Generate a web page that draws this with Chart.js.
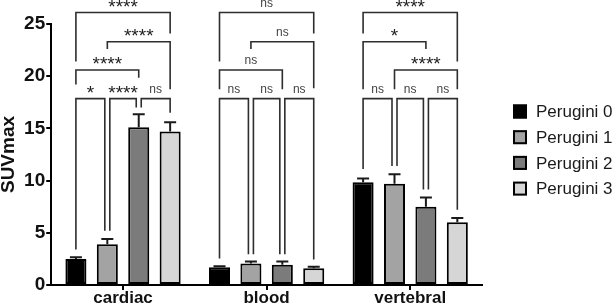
<!DOCTYPE html>
<html>
<head>
<meta charset="utf-8">
<script src="https://cdn.jsdelivr.net/npm/chart.js@4"></script>
<style>
  body { margin: 0; background: #fff; }
  #wrap { width: 614px; height: 308px; }
</style>
</head>
<body>
<div id="wrap"><canvas id="suvChart"></canvas></div>
<script>
const categories = ['cardiac', 'blood', 'vertebral'];
const seriesNames = ['Perugini 0', 'Perugini 1', 'Perugini 2', 'Perugini 3'];
const seriesColors = ['#000000', '#a3a3a3', '#7b7b7b', '#d6d6d6'];

// mean SUVmax per category (cardiac, blood, vertebral)
const perugini0 = [2.5, 1.7, 9.85];
const perugini1 = [3.9, 2.05, 9.7];
const perugini2 = [15.1, 1.95, 7.5];
const perugini3 = [14.7, 1.6, 6.0];

// upper error (SEM)
const err0 = [0.15, 0.1, 0.36];
const err1 = [0.5, 0.2, 0.92];
const err2 = [1.25, 0.3, 0.88];
const err3 = [0.9, 0.15, 0.42];

const yTicks = [0, 5, 10, 15, 20, 25];

// significance brackets: [category, from series, to series, bar height, left foot, right foot, label]
const brackets = [
  [0, 0, 1, 17.85, 3.4, 5.2, '*'],
  [0, 1, 2, 17.85, 5.2, 17.0, '****'],
  [0, 2, 3, 17.85, 17.0, 16.5, 'ns'],
  [0, 0, 2, 20.6, 19.2, 19.85, '****'],
  [0, 1, 3, 23.3, 22.6, 18.75, '****'],
  [0, 0, 3, 26.1, 21.4, 24.1, '****'],
  [1, 0, 1, 17.85, 2.55, 2.95, 'ns'],
  [1, 1, 2, 17.85, 2.95, 2.95, 'ns'],
  [1, 2, 3, 17.85, 2.95, 2.45, 'ns'],
  [1, 0, 2, 20.6, 18.75, 18.75, 'ns'],
  [1, 1, 3, 23.3, 22.6, 18.85, 'ns'],
  [1, 0, 3, 26.1, 21.4, 24.1, 'ns'],
  [2, 0, 1, 17.85, 11.1, 11.4, 'ns'],
  [2, 1, 2, 17.85, 11.4, 9.15, 'ns'],
  [2, 2, 3, 17.85, 9.15, 7.2, 'ns'],
  [2, 1, 3, 20.6, 18.75, 18.75, '****'],
  [2, 0, 2, 23.3, 18.75, 22.6, '*'],
  [2, 0, 3, 26.1, 24.1, 21.4, '****']
];

const values = [perugini0, perugini1, perugini2, perugini3];
const errors = [err0, err1, err2, err3];
const FONT = '"Liberation Sans", Arial, sans-serif';

const errorBars = {
  id: 'errorBars',
  afterDatasetsDraw(chart) {
    const ctx = chart.ctx;
    const y = chart.scales.y;
    ctx.save();
    ctx.strokeStyle = '#1a1a1a';
    ctx.lineWidth = 2;
    chart.data.datasets.forEach((ds, i) => {
      chart.getDatasetMeta(i).data.forEach((bar, j) => {
        const top = y.getPixelForValue(ds.data[j] + errors[i][j]);
        ctx.beginPath();
        ctx.moveTo(bar.x, bar.y);
        ctx.lineTo(bar.x, top);
        ctx.moveTo(bar.x - 6, top);
        ctx.lineTo(bar.x + 6, top);
        ctx.stroke();
      });
    });
    ctx.restore();
  }
};

const sigBrackets = {
  id: 'sigBrackets',
  afterDraw(chart) {
    const ctx = chart.ctx;
    const y = chart.scales.y;
    ctx.save();
    brackets.forEach(([c, a, b, h, fl, fr, label]) => {
      let xl = chart.getDatasetMeta(a).data[c].x;
      let xr = chart.getDatasetMeta(b).data[c].x;
      if (b - a === 1) {
        if (a > 0) xl += 2.5;
        if (b < 3) xr -= 2.5;
      }
      const yt = y.getPixelForValue(h);
      ctx.strokeStyle = '#2e2e2e';
      ctx.lineWidth = 1.6;
      ctx.beginPath();
      ctx.moveTo(xl, y.getPixelForValue(fl));
      ctx.lineTo(xl, yt);
      ctx.lineTo(xr, yt);
      ctx.lineTo(xr, y.getPixelForValue(fr));
      ctx.stroke();

      const isNs = label === 'ns';
      ctx.font = (isNs ? '12px ' : '19px ') + FONT;
      ctx.fillStyle = isNs ? '#444' : '#222';
      ctx.textAlign = 'center';
      ctx.textBaseline = 'alphabetic';
      const m = ctx.measureText(label);
      const mid = yt - 9;
      ctx.fillText(label, (xl + xr) / 2, mid + (m.actualBoundingBoxAscent - m.actualBoundingBoxDescent) / 2);
    });
    ctx.restore();
  }
};

const sideLegend = {
  id: 'sideLegend',
  afterDraw(chart) {
    const ctx = chart.ctx;
    const x0 = chart.chartArea.right + 31;
    const y0 = 111.5;
    ctx.save();
    ctx.font = '17px ' + FONT;
    ctx.textBaseline = 'middle';
    ctx.textAlign = 'left';
    chart.data.datasets.forEach((ds, i) => {
      const cy = y0 + i * 25.7;
      ctx.fillStyle = ds.backgroundColor;
      ctx.fillRect(x0, cy - 7, 14, 14);
      ctx.strokeStyle = '#000';
      ctx.lineWidth = 2;
      ctx.strokeRect(x0 + 1, cy - 6, 12, 12);
      ctx.fillStyle = '#1a1a1a';
      ctx.fillText(ds.label, x0 + 23, cy + 1);
    });
    ctx.restore();
  }
};

new Chart(document.getElementById('suvChart').getContext('2d'), {
  type: 'bar',
  data: {
    labels: categories,
    datasets: seriesNames.map((name, i) => ({
      label: name,
      data: values[i],
      backgroundColor: seriesColors[i],
      borderColor: '#000',
      borderWidth: 2,
      borderSkipped: false,
      categoryPercentage: 0.875,
      barPercentage: 0.67
    }))
  },
  options: {
    responsive: true,
    maintainAspectRatio: false,
    animation: false,
    layout: { padding: { top: 24, right: 132, bottom: 1, left: 0 } },
    plugins: {
      legend: { display: false },
      tooltip: { enabled: false }
    },
    scales: {
      x: {
        grid: { drawOnChartArea: false, offset: false, tickLength: 5, color: '#000', lineWidth: 2 },
        border: { color: '#000', width: 2 },
        ticks: { color: '#111', padding: 0, font: { family: FONT, size: 17, weight: 'bold', lineHeight: 1 } }
      },
      y: {
        min: 0,
        max: 25,
        afterBuildTicks: axis => { axis.ticks = yTicks.map(v => ({ value: v })); },
        grid: { drawOnChartArea: false, tickLength: 5, color: '#000', lineWidth: 2 },
        border: { color: '#000', width: 2 },
        ticks: { color: '#111', padding: 1, font: { family: FONT, size: 19, weight: 'bold' } },
        title: {
          display: true,
          text: 'SUVmax',
          color: '#111',
          padding: { top: 0, bottom: 6 },
          font: { family: FONT, size: 19, weight: 'bold', lineHeight: 0.9 }
        }
      }
    }
  },
  plugins: [errorBars, sigBrackets, sideLegend]
});
</script>
</body>
</html>
